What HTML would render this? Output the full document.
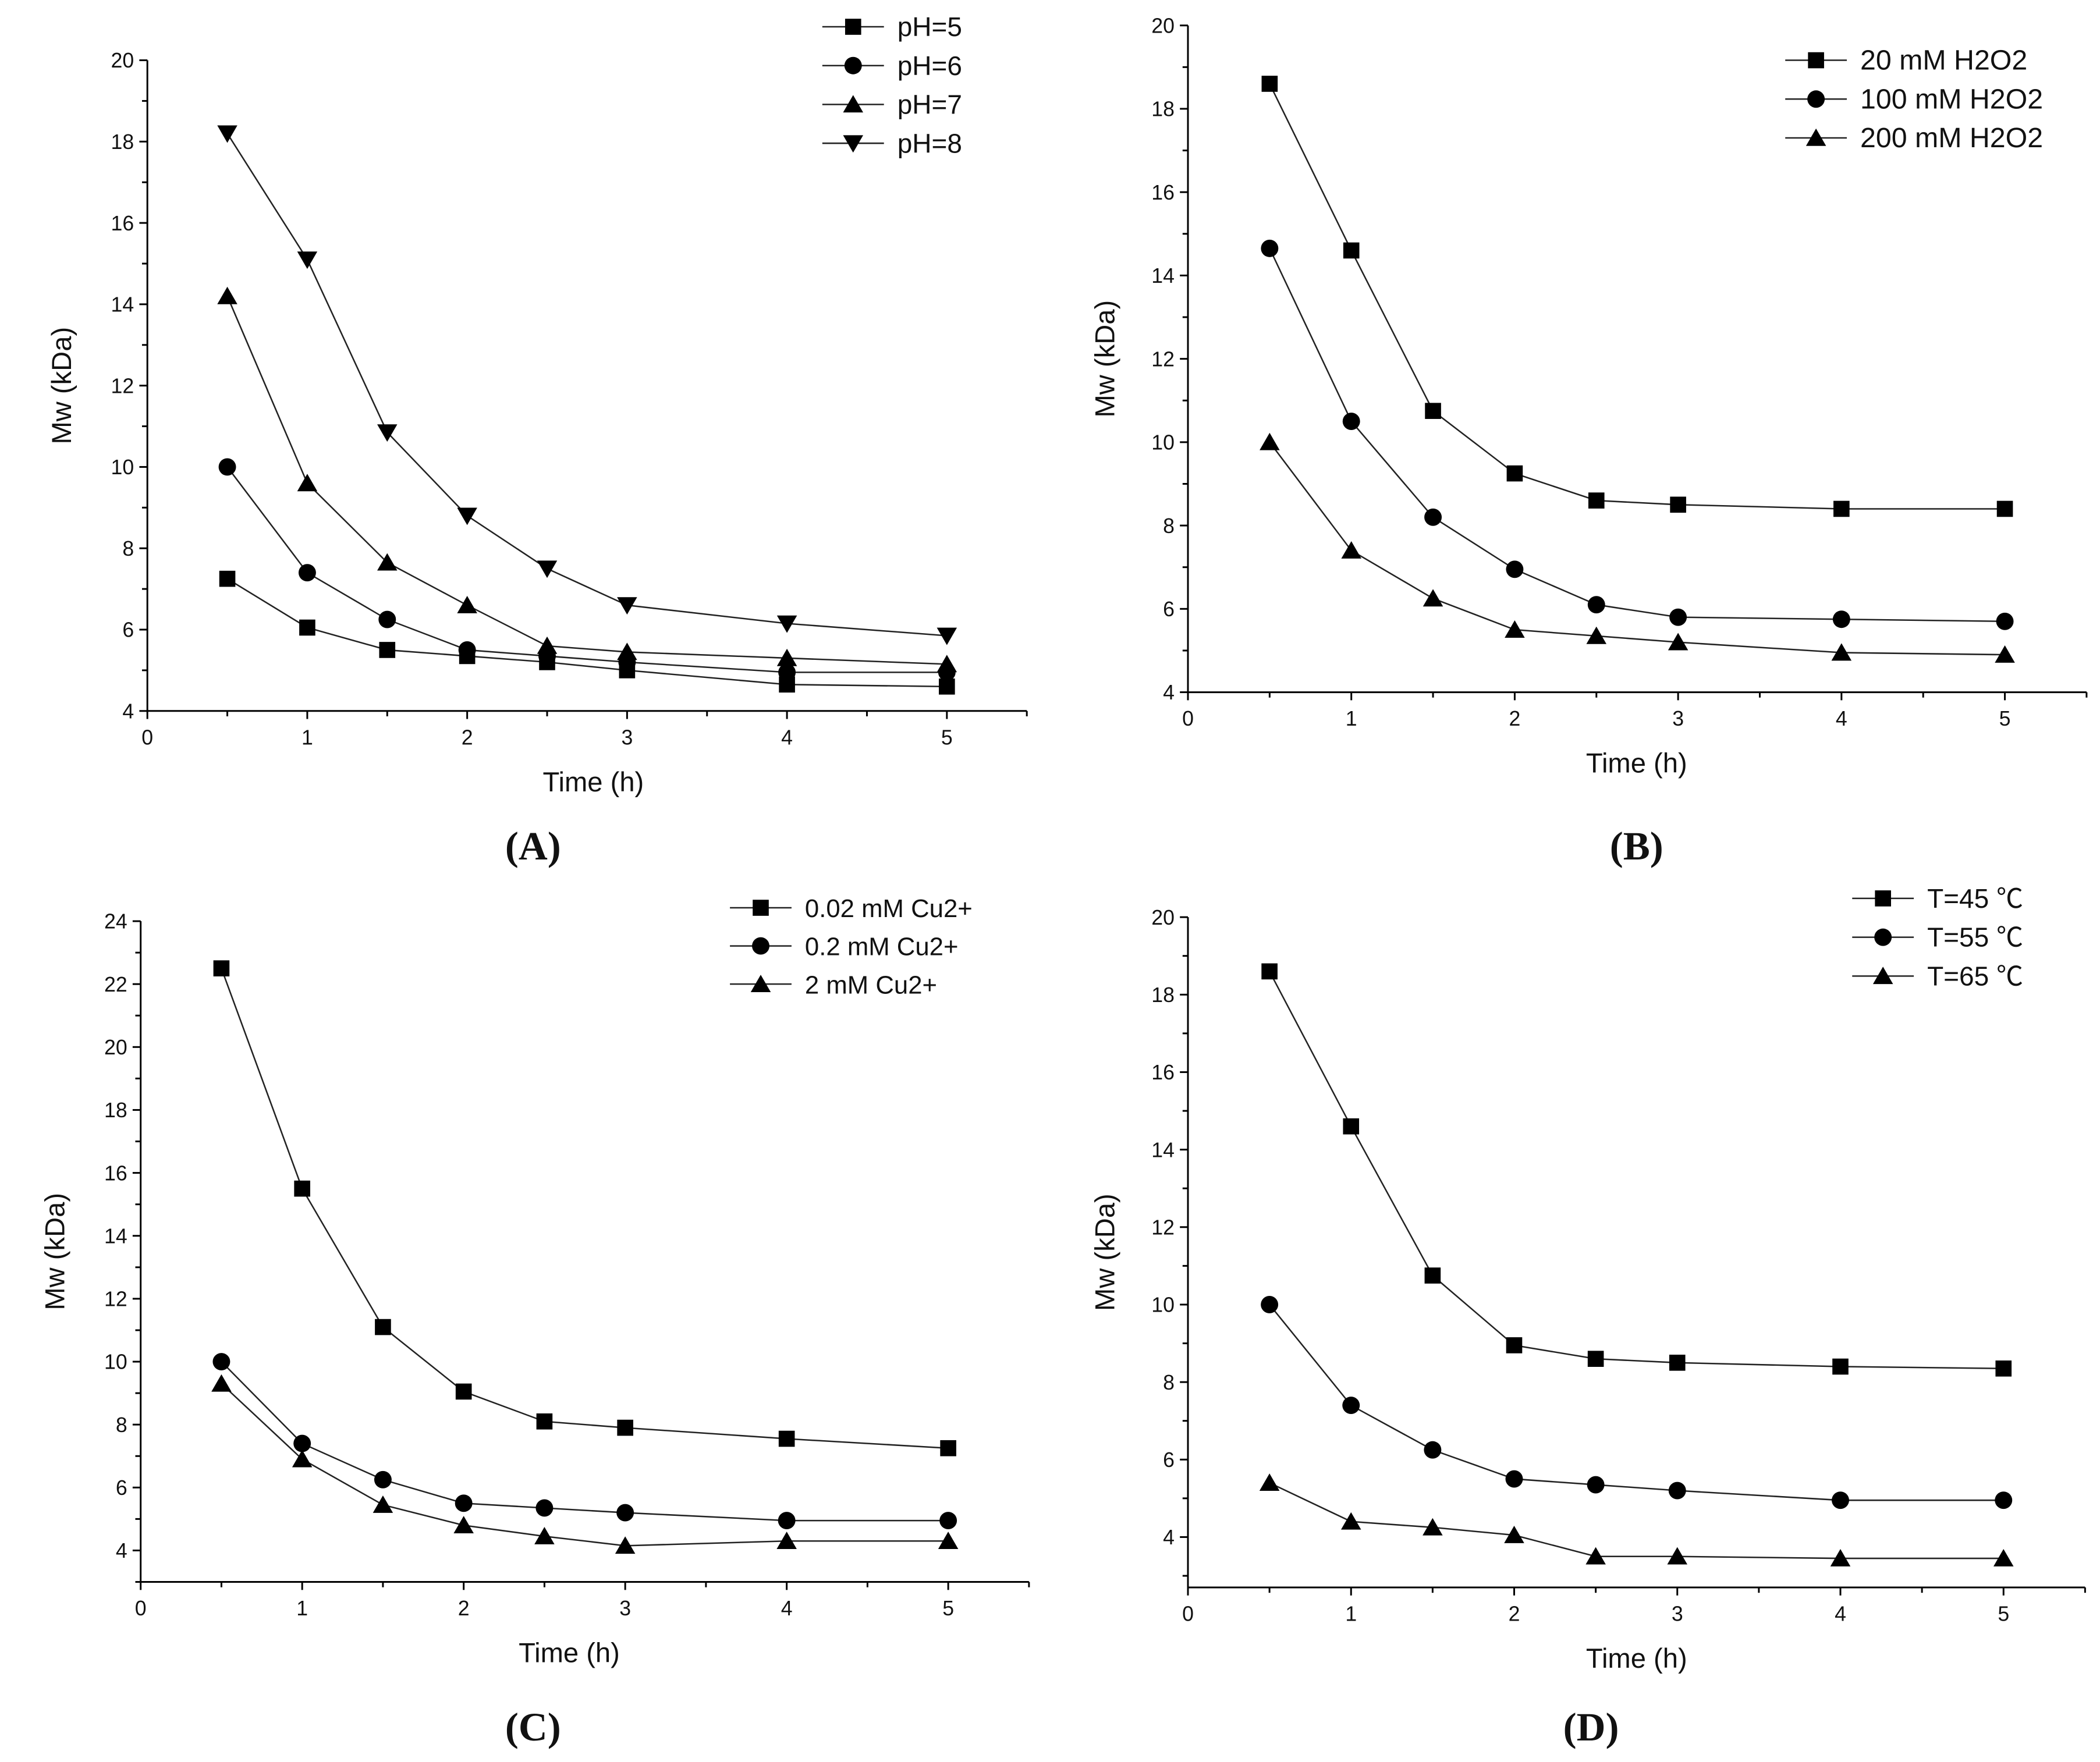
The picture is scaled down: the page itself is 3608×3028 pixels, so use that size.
<!DOCTYPE html>
<html><head><meta charset="utf-8"><style>
html,body{margin:0;padding:0;background:#fff;}
svg{display:block;}
text{font-family:"Liberation Sans","Noto Sans CJK SC",sans-serif;fill:#111;}
.pl{font-family:"Liberation Serif",serif;font-weight:bold;font-size:30px;}
</style></head><body>
<svg id="fig" width="3608" height="3028" viewBox="0 0 1568 1316" xmlns="http://www.w3.org/2000/svg">
<rect width="1568" height="1316" fill="#fff"/>
</svg>
<script>
const times = [0.5, 1, 1.5, 2, 2.5, 3, 4, 5];
const xTicks = [0, 1, 2, 3, 4, 5];
const aNames = ["pH=5", "pH=6", "pH=7", "pH=8"];
const aPH5 = [7.25, 6.05, 5.5, 5.35, 5.2, 5.0, 4.65, 4.6];
const aPH6 = [10, 7.4, 6.25, 5.5, 5.35, 5.2, 4.95, 4.95];
const aPH7 = [14.2, 9.6, 7.65, 6.6, 5.6, 5.45, 5.3, 5.15];
const aPH8 = [18.2, 15.1, 10.85, 8.8, 7.5, 6.6, 6.15, 5.85];
const aYTicks = [4, 6, 8, 10, 12, 14, 16, 18, 20];
const bNames = ["20 mM H2O2", "100 mM H2O2", "200 mM H2O2"];
const b20 = [18.6, 14.6, 10.75, 9.25, 8.6, 8.5, 8.4, 8.4];
const b100 = [14.65, 10.5, 8.2, 6.95, 6.1, 5.8, 5.75, 5.7];
const b200 = [10, 7.4, 6.25, 5.5, 5.35, 5.2, 4.95, 4.9];
const bYTicks = [4, 6, 8, 10, 12, 14, 16, 18, 20];
const cNames = ["0.02 mM Cu2+", "0.2 mM Cu2+", "2 mM Cu2+"];
const c002 = [22.5, 15.5, 11.1, 9.05, 8.1, 7.9, 7.55, 7.25];
const c02 = [10, 7.4, 6.25, 5.5, 5.35, 5.2, 4.95, 4.95];
const c2 = [9.3, 6.9, 5.45, 4.8, 4.45, 4.15, 4.3, 4.3];
const cYTicks = [4, 6, 8, 10, 12, 14, 16, 18, 20, 22, 24];
const dNames = ["T=45 ℃", "T=55 ℃", "T=65 ℃"];
const d45 = [18.6, 14.6, 10.75, 8.95, 8.6, 8.5, 8.4, 8.35];
const d55 = [10, 7.4, 6.25, 5.5, 5.35, 5.2, 4.95, 4.95];
const d65 = [5.4, 4.4, 4.25, 4.05, 3.5, 3.5, 3.45, 3.45];
const dYTicks = [4, 6, 8, 10, 12, 14, 16, 18, 20];

const NS = "http://www.w3.org/2000/svg";
const svg = document.getElementById("fig");
function mk(tag, attrs, parent, txt) {
  const e = document.createElementNS(NS, tag);
  for (const k in attrs) e.setAttribute(k, attrs[k]);
  if (txt !== undefined) e.textContent = txt;
  parent.appendChild(e);
  return e;
}
function marker(g, type, x, y) {
  let e;
  if (type === "square") e = mk("rect", {x: x-6, y: y-6, width: 12, height: 12, fill: "#000"}, g);
  else if (type === "circle") e = mk("circle", {cx: x, cy: y, r: 6.5, fill: "#000"}, g);
  else if (type === "up") e = mk("polygon", {points: `${x},${y-7} ${x-7.5},${y+6} ${x+7.5},${y+6}`, fill: "#000"}, g);
  else e = mk("polygon", {points: `${x},${y+7} ${x-7.5},${y-6} ${x+7.5},${y-6}`, fill: "#000"}, g);
  
  
}
const types = ["square", "circle", "up", "down"];

function panel(p) {
  const g = mk("g", {}, svg);
  
  
  const xs = v => p.x0 + (v - 0) * (p.x5 - p.x0) / 5;
  const ys = v => p.yA + (v - p.vA) * (p.yB - p.yA) / (p.vB - p.vA);
  const xEnd = xs(5.5), yBot = ys(p.ymin), yTop = ys(p.ymax);
  const ax = mk("g", {stroke: "#000", "stroke-width": 1.3}, g);
  
  
  mk("line", {x1: p.x0, y1: yTop, x2: p.x0, y2: yBot}, ax);
  mk("line", {x1: p.x0, y1: yBot, x2: xEnd, y2: yBot}, ax);
  for (let v = 0; v <= 5.5001; v += 0.5) {
    const major = Math.abs(v - Math.round(v)) < 1e-6;
    mk("line", {x1: xs(v), y1: yBot, x2: xs(v), y2: yBot + (major ? 6 : 4)}, ax);
  }
  p.yTicks.forEach(t => {
    mk("line", {x1: p.x0, y1: ys(t), x2: p.x0 - 6, y2: ys(t)}, ax);
    if (ys(t + 1) >= yTop - 0.5 && t + 1 <= p.ymax) mk("line", {x1: p.x0, y1: ys(t + 1), x2: p.x0 - 4, y2: ys(t + 1)}, ax);
    if (t === p.yTicks[0] && ys(t - 1) <= yBot + 0.5) mk("line", {x1: p.x0, y1: ys(t - 1), x2: p.x0 - 4, y2: ys(t - 1)}, ax);
    const tl = mk("text", {x: p.x0 - 10, y: ys(t) + 5.5, "text-anchor": "end", "font-size": 15.5}, g, String(t));
    
    
  });
  xTicks.forEach(t => {
    const tl = mk("text", {x: xs(t), y: yBot + 25, "text-anchor": "middle", "font-size": 15.5}, g, String(t));
    
    
  });
  const xt = mk("text", {x: p.xtx, y: yBot + 60, "text-anchor": "middle", "font-size": 20.5}, g, "Time (h)");
  
  
  const ytc = (yTop + yBot) / 2;
  const yt = mk("text", {x: p.ytx, y: ytc, "text-anchor": "middle", "font-size": 20.5, transform: `rotate(-90 ${p.ytx} ${ytc})`}, g, "Mw (kDa)");
  
  
  p.series.forEach((s, i) => {
    const sg = mk("g", {}, g);
    
    
    const pts = times.map((t, j) => xs(t) + "," + ys(s[j])).join(" ");
    mk("polyline", {points: pts, fill: "none", stroke: "#222", "stroke-width": 1.1}, sg);
    times.forEach((t, j) => marker(sg, types[i], xs(t), ys(s[j])));
  });
  p.names.forEach((n, i) => {
    const lg = mk("g", {}, g);
    
    
    const y = p.ly + i * p.lstep;
    mk("line", {x1: p.lx, y1: y, x2: p.lx + 46, y2: y, stroke: "#222", "stroke-width": 1.1}, lg);
    marker(lg, types[i], p.lx + 23, y);
    mk("text", {x: p.lx + 56, y: y + 7, "font-size": p.lfs}, lg, n);
  });
  const pl = mk("text", {x: p.plx, y: p.ply, "text-anchor": "middle", class: "pl"}, g, p.label);
  
  
}

panel({id: "panel-a", x0: 110, x5: 707, yA: 531, vA: 4, yB: 45, vB: 20, ymin: 4, ymax: 20, yTicks: aYTicks,
  series: [aPH5, aPH6, aPH7, aPH8], names: aNames, lx: 614, ly: 20, lstep: 29, lfs: 20,
  xtx: 443, ytx: 53, label: "(A)", plx: 398, ply: 642});
panel({id: "panel-b", x0: 887, x5: 1497, yA: 517, vA: 4, yB: 19, vB: 20, ymin: 4, ymax: 20, yTicks: bYTicks,
  series: [b20, b100, b200], names: bNames, lx: 1333, ly: 45, lstep: 29, lfs: 21,
  xtx: 1222, ytx: 832, label: "(B)", plx: 1222, ply: 642});
panel({id: "panel-c", x0: 105, x5: 708, yA: 1158, vA: 4, yB: 688, vB: 24, ymin: 3, ymax: 24, yTicks: cYTicks,
  series: [c002, c02, c2], names: cNames, lx: 545, ly: 678, lstep: 28.5, lfs: 19,
  xtx: 425, ytx: 48, label: "(C)", plx: 398, ply: 1300});
panel({id: "panel-d", x0: 887, x5: 1496, yA: 1148, vA: 4, yB: 685, vB: 20, ymin: 2.7, ymax: 20, yTicks: dYTicks,
  series: [d45, d55, d65], names: dNames, lx: 1383, ly: 671, lstep: 29, lfs: 20,
  xtx: 1222, ytx: 832, label: "(D)", plx: 1188, ply: 1300});
</script>
</body></html>
